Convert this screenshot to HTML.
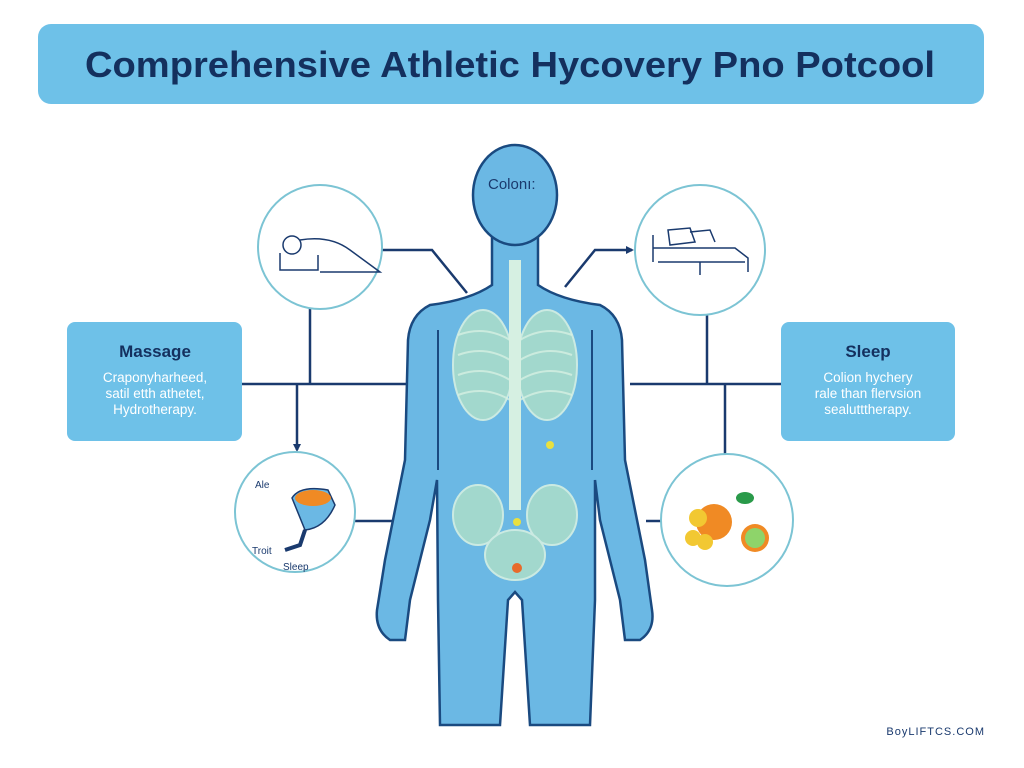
<!DOCTYPE html>
<html><head><meta charset="utf-8"><style>
body{margin:0;width:1024px;height:768px;background:#fff;overflow:hidden;font-family:"Liberation Sans",sans-serif;}
svg{display:block}
</style></head><body>
<svg width="1024" height="768" viewBox="0 0 1024 768" xmlns="http://www.w3.org/2000/svg" font-family="Liberation Sans, sans-serif">
<defs><marker id="ar" markerWidth="8" markerHeight="8" refX="6" refY="4" orient="auto" markerUnits="userSpaceOnUse"><path d="M0,0 L8,4 L0,8 Z" fill="#1a3a6e"/></marker></defs>
<rect x="38" y="24" width="946" height="80" rx="13" fill="#6ec1e8"/>
<text x="85" y="77" textLength="850" lengthAdjust="spacingAndGlyphs" font-size="36" font-weight="bold" fill="#14305e">Comprehensive Athletic Hycovery  Pno Potcool</text>

<g stroke="#1a3a6e" stroke-width="2.5" fill="none">
<polyline points="382,250 432,250 467,293"/>
<line x1="242" y1="384" x2="410" y2="384"/>
<line x1="310" y1="309" x2="310" y2="384"/>
<line x1="297" y1="384" x2="297" y2="450" marker-end="url(#ar)"/>
<line x1="355" y1="521" x2="392" y2="521"/>
<polyline points="565,287 595,250 632,250" marker-end="url(#ar)"/>
<line x1="630" y1="384" x2="781" y2="384"/>
<line x1="707" y1="315" x2="707" y2="384"/>
<line x1="725" y1="384" x2="725" y2="454"/>
<line x1="646" y1="521" x2="661" y2="521"/>
</g>

<g stroke="#1a4a80" stroke-width="2.5" fill="#6bb8e4">
<path d="M492,230 L492,285 Q470,300 430,305 Q410,315 408,340 L405,460 L385,560 L377,610 Q375,630 390,640 L405,640 L410,600 L430,520 L437,480 L438,600 L440,725 L500,725 L508,600 L515,592 L522,600 L530,725 L590,725 L595,600 L595,480 L600,520 L620,600 L625,640 L640,640 Q655,630 652,610 L645,560 L625,460 L622,340 Q620,315 600,305 Q560,300 538,285 L538,230 Z"/>
<ellipse cx="515" cy="195" rx="42" ry="50"/>
</g>
<path d="M438,330 L438,470 M592,330 L592,470" stroke="#1a4a80" stroke-width="2" fill="none"/>
<text x="488" y="189" font-size="15" fill="#1a3a6e">Colonı:</text>
<g fill="#a8dccb" stroke="#d6f0e2" stroke-width="2" opacity="0.9">
<ellipse cx="483" cy="365" rx="30" ry="55"/>
<ellipse cx="547" cy="365" rx="30" ry="55"/>
<ellipse cx="478" cy="515" rx="25" ry="30"/>
<ellipse cx="552" cy="515" rx="25" ry="30"/>
<ellipse cx="515" cy="555" rx="30" ry="25"/>
</g>
<g stroke="#d6f0e2" stroke-width="2" fill="none" opacity="0.8">
<path d="M458,335 Q485,325 510,340 M458,355 Q485,345 510,360 M458,375 Q485,365 510,380 M458,395 Q485,385 510,400 M572,335 Q545,325 520,340 M572,355 Q545,345 520,360 M572,375 Q545,365 520,380 M572,395 Q545,385 520,400"/>
</g>
<line x1="515" y1="260" x2="515" y2="510" stroke="#d6f0e2" stroke-width="12"/>
<circle cx="517" cy="522" r="4" fill="#e8e040"/>
<circle cx="517" cy="568" r="5" fill="#e86a2a"/>
<circle cx="550" cy="445" r="4" fill="#e8e040"/>

<g fill="#fff" stroke="#7cc4d4" stroke-width="2">
<circle cx="320" cy="247" r="62"/>
<circle cx="295" cy="512" r="60"/>
<circle cx="700" cy="250" r="65"/>
<circle cx="727" cy="520" r="66"/>
</g>
<g stroke="#1a3a6e" stroke-width="1.5" fill="none">
<circle cx="292" cy="245" r="9"/>
<path d="M280,253 L280,270 L318,270 L318,255 M300,240 Q330,235 350,250 L380,272 L320,272"/>
<path d="M653,235 L653,262 M653,248 L735,248 L748,258 L748,272 M658,262 L745,262 M700,275 L700,262 M668,230 L690,228 L695,242 L670,245 Z M690,232 L710,230 L715,242"/>
</g>
<path d="M292,498 Q300,485 328,490 L335,505 Q325,528 305,530 Z" fill="#6bb8e4" stroke="#1a3a6e" stroke-width="1.5"/>
<ellipse cx="313" cy="498" rx="18" ry="8" fill="#f08a24"/>
<path d="M305,530 L300,545 L285,550" stroke="#1a3a6e" stroke-width="4" fill="none"/>
<text x="255" y="488" font-size="10" fill="#1a3a6e">Ale</text>
<text x="252" y="554" font-size="10" fill="#1a3a6e">Troit</text>
<text x="283" y="570" font-size="10" fill="#1a3a6e">Sleep</text>
<circle cx="714" cy="522" r="18" fill="#f08a24"/>
<circle cx="698" cy="518" r="9" fill="#f2c832"/>
<circle cx="693" cy="538" r="8" fill="#f2c832"/>
<circle cx="705" cy="542" r="8" fill="#f2c832"/>
<circle cx="755" cy="538" r="14" fill="#f08a24"/>
<circle cx="755" cy="538" r="10" fill="#8ed46a"/>
<ellipse cx="745" cy="498" rx="9" ry="6" fill="#2a9a4a"/>

<rect x="67" y="322" width="175" height="119" rx="8" fill="#6ec1e8"/>
<text x="155" y="357" text-anchor="middle" font-size="17" font-weight="bold" fill="#14305e">Massage</text>
<g fill="#fff" font-size="13.5" text-anchor="middle">
<text x="155" y="382">Craponyharheed,</text><text x="155" y="398">satil etth athetet,</text><text x="155" y="414">Hydrotherapy.</text>
</g>
<rect x="781" y="322" width="174" height="119" rx="8" fill="#6ec1e8"/>
<text x="868" y="357" text-anchor="middle" font-size="17" font-weight="bold" fill="#14305e">Sleep</text>
<g fill="#fff" font-size="13.5" text-anchor="middle">
<text x="868" y="382">Colion hychery</text><text x="868" y="398">rale than flervsion</text><text x="868" y="414">sealutttherapy.</text>
</g>
<text x="985" y="735" text-anchor="end" font-size="11" fill="#1a3a6e" letter-spacing="1">BoyLIFTCS.COM</text>
</svg>
</body></html>
